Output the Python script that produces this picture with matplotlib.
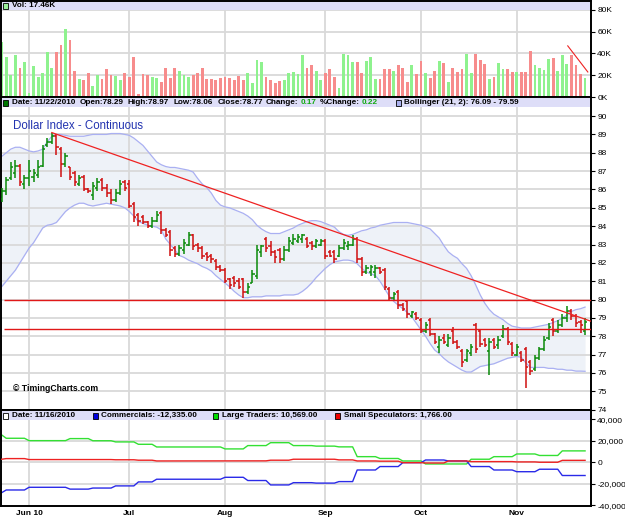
import numpy as np
import matplotlib
matplotlib.use("Agg")
import matplotlib.pyplot as plt
from matplotlib.patches import Rectangle

plt.rcParams["font.family"] = ["Liberation Sans", "DejaVu Sans"]

# bar index of first trading day of each month
month_idx = [6, 28, 49, 71, 92, 113]
month_lbl = ["Jun 10", "Jul", "Aug", "Sep", "Oct", "Nov"]

opens = [85.5, 85.9, 86.6, 86.9, 87.3, 86.3, 86.6, 86.7, 86.8, 87.3,
         88.4, 88.6, 88.9, 88.2, 87.4, 87.2, 86.9, 86.3, 86.7, 86.0,
         85.7, 86.1, 86.5, 86.1, 85.8, 85.4, 85.8, 86.4, 86.3, 85.2,
         84.6, 84.5, 84.2, 84.0, 84.3, 84.7, 83.8, 83.7, 82.8, 82.5,
         82.7, 83.0, 83.5, 83.0, 82.8, 82.5, 82.4, 82.1, 81.8, 81.6,
         81.1, 81.2, 81.0, 81.1, 80.4, 80.9, 81.3, 82.6, 83.3, 82.9,
         82.6, 82.7, 82.2, 82.7, 83.1, 83.2, 83.3, 83.3, 83.1, 82.9,
         83.0, 83.2, 82.6, 82.6, 82.4, 82.8, 82.9, 83.0, 83.3, 82.2,
         81.5, 81.5, 81.5, 81.7, 81.6, 80.6, 80.1, 80.4, 79.7, 79.9,
         79.1, 79.2, 78.9, 78.3, 78.9, 78.1, 77.4, 77.9, 77.5, 78.3,
         77.7, 77.2, 76.7, 77.1, 78.6, 78.3, 77.8, 77.2, 77.8, 77.5,
         78.0, 78.4, 77.6, 77.0, 77.1, 77.3, 76.6, 76.2, 76.8, 77.3,
         77.9, 78.9, 78.3, 78.6, 79.0, 79.4, 79.1, 78.8, 78.29]
highs = [86.1, 86.7, 87.5, 87.6, 87.4, 86.8, 87.6, 87.1, 87.6, 88.4,
         88.8, 89.1, 89.0, 88.3, 88.0, 87.2, 87.0, 86.8, 86.8, 86.1,
         86.4, 86.6, 86.6, 86.3, 86.0, 86.0, 86.5, 86.5, 86.5, 85.3,
         84.7, 84.6, 84.3, 84.5, 84.8, 84.8, 83.9, 83.8, 82.9, 83.0,
         83.3, 83.7, 83.6, 83.1, 82.9, 82.6, 82.5, 82.2, 81.9, 81.7,
         81.2, 81.3, 81.2, 81.2, 80.9, 81.6, 83.0, 83.0, 83.4, 83.2,
         82.7, 82.8, 82.9, 83.4, 83.6, 83.6, 83.6, 83.4, 83.2, 83.3,
         83.3, 83.3, 82.7, 82.7, 83.0, 83.3, 83.2, 83.5, 83.4, 82.3,
         81.9, 81.9, 81.9, 81.8, 81.7, 80.7, 80.4, 80.5, 79.8, 80.0,
         79.4, 79.3, 79.0, 78.8, 79.0, 78.2, 78.0, 78.1, 78.1, 78.5,
         77.8, 77.3, 77.3, 77.6, 78.7, 78.4, 77.9, 77.9, 77.9, 78.0,
         78.6, 78.5, 77.7, 77.6, 77.2, 77.4, 76.7, 77.0, 77.4, 78.0,
         78.7, 79.0, 78.9, 79.2, 79.65, 79.5, 79.2, 78.9, 78.97]
lows = [85.3, 85.7, 86.5, 86.6, 86.2, 86.0, 86.2, 86.4, 86.6, 87.2,
        88.3, 88.5, 87.9, 86.7, 87.2, 86.5, 86.2, 86.2, 85.9, 85.8,
        85.4, 85.9, 85.9, 85.6, 85.2, 85.3, 85.7, 85.9, 85.0, 84.2,
        84.0, 84.1, 83.9, 83.9, 84.2, 83.6, 83.4, 82.4, 82.3, 82.4,
        82.5, 82.9, 82.7, 82.6, 82.2, 82.1, 82.0, 81.6, 81.5, 80.9,
        80.6, 80.7, 80.6, 80.1, 80.3, 80.9, 81.1, 82.3, 82.6, 82.4,
        82.0, 82.0, 82.1, 82.6, 83.0, 83.1, 83.1, 82.8, 82.7, 82.8,
        82.9, 82.2, 82.3, 82.0, 82.3, 82.7, 82.7, 82.9, 82.0, 81.3,
        81.4, 81.3, 81.2, 81.4, 80.5, 79.9, 80.0, 79.5, 79.4, 79.0,
        79.0, 78.9, 78.2, 78.2, 78.0, 77.6, 77.1, 77.6, 77.4, 77.6,
        77.3, 76.3, 76.6, 76.9, 77.1, 77.4, 77.4, 75.9, 77.3, 77.3,
        77.9, 77.5, 76.9, 76.9, 76.6, 75.2, 75.9, 76.1, 76.7, 77.2,
        77.8, 78.0, 78.2, 78.5, 78.8, 78.9, 78.5, 78.2, 78.06]
closes = [85.9, 86.5, 87.2, 87.3, 86.4, 86.6, 87.0, 86.9, 87.2, 88.2,
          88.6, 88.9, 88.3, 87.4, 87.8, 86.7, 86.4, 86.6, 86.0, 85.9,
          86.2, 86.4, 86.1, 85.8, 85.4, 85.8, 86.3, 86.1, 85.1, 84.5,
          84.3, 84.2, 84.0, 84.3, 84.6, 83.8, 83.5, 82.7, 82.5, 82.8,
          83.1, 83.5, 82.9, 82.8, 82.4, 82.3, 82.2, 81.8, 81.6, 81.0,
          80.8, 80.9, 80.7, 80.4, 80.7, 81.4, 82.7, 82.9, 82.8, 82.6,
          82.3, 82.2, 82.7, 83.2, 83.3, 83.4, 83.5, 82.9, 82.9, 83.2,
          83.2, 82.4, 82.4, 82.2, 82.8, 83.1, 83.0, 83.3, 82.2, 81.5,
          81.7, 81.8, 81.7, 81.5, 80.7, 80.1, 80.3, 79.7, 79.5, 79.2,
          79.3, 79.0, 78.3, 78.6, 78.1, 77.7, 77.8, 77.7, 77.9, 77.7,
          77.4, 76.6, 77.2, 77.4, 77.3, 77.6, 77.5, 77.7, 77.4, 77.8,
          78.4, 77.7, 77.1, 77.4, 76.7, 76.3, 76.1, 76.8, 77.3, 77.8,
          78.5, 78.3, 78.6, 79.0, 79.4, 79.1, 78.7, 78.6, 78.77]

# volume in thousands
volume = [50.9, 37.0, 20.2, 38.6, 26.4, 31.9, 4.0, 28.8, 18.7, 21.8,
          41.1, 26.4, 41.1, 47.8, 62.5, 52.1, 24.2, 16.6, 15.6, 22.4,
          10.1, 20.2, 16.6, 25.7, 20.2, 19.3, 15.6, 21.8, 18.7, 36.8,
          2.8, 20.9, 20.2, 18.0, 17.2, 14.1, 26.7, 17.2, 26.4, 23.9,
          20.2, 18.0, 20.2, 22.4, 27.0, 16.3, 16.6, 15.6, 17.8, 18.0,
          17.5, 15.6, 19.3, 15.6, 21.8, 13.2, 34.0, 32.5, 18.0, 15.6,
          13.2, 14.7, 15.6, 21.8, 23.3, 21.2, 39.0, 26.4, 29.8, 23.9,
          15.6, 21.8, 25.6, 18.7, 8.0, 39.2, 38.6, 32.2, 32.2, 21.8,
          33.1, 37.0, 16.6, 16.6, 25.7, 25.7, 24.0, 29.5, 26.4, 14.1,
          29.5, 20.9, 33.1, 22.4, 17.8, 24.2, 33.1, 31.0, 13.5, 26.4,
          23.3, 26.0, 39.5, 22.4, 39.2, 34.0, 30.3, 16.6, 18.0, 31.6,
          25.7, 25.7, 23.3, 23.3, 23.3, 23.3, 42.3, 29.1, 26.4, 24.8,
          35.0, 35.9, 24.2, 38.6, 30.3, 38.6, 29.1, 21.2, 17.46]

bb_upper = [87.8, 88.0, 88.2, 88.3, 88.3, 88.2, 88.1, 88.05, 88.1, 88.2,
            88.6, 88.9, 89.0, 89.0, 88.95, 88.9, 88.9, 88.9, 88.9, 88.95,
            89.0, 89.0, 89.0, 89.0, 89.05, 89.05, 89.05, 89.0, 88.95, 88.8,
            88.6, 88.4, 88.1, 87.8, 87.5, 87.35, 87.25, 87.2, 87.2, 87.15,
            87.1, 87.05, 86.95, 86.6, 86.3, 86.1, 85.8, 85.4, 85.15, 85.05,
            85.0, 84.9, 84.8, 84.7, 84.55, 84.35, 84.05, 83.85, 83.7, 83.6,
            83.6, 83.6, 83.7, 83.8, 83.9, 84.05, 84.15, 84.25, 84.3, 84.3,
            84.25, 84.15, 84.05, 83.95, 83.7, 83.55, 83.5, 83.55, 83.65, 83.75,
            83.8, 83.9, 83.95, 84.05, 84.1, 84.15, 84.2, 84.2, 84.2, 84.2,
            84.15, 84.1, 84.05, 83.95, 83.85, 83.6, 83.35, 82.95, 82.6, 82.4,
            82.25, 81.95, 81.7, 81.3, 80.8, 80.25, 79.8, 79.45, 79.2, 79.05,
            78.9, 78.7, 78.55, 78.5, 78.45, 78.45, 78.45, 78.5, 78.55, 78.6,
            78.65, 78.75, 78.85, 79.0, 79.15, 79.35, 79.45, 79.5, 79.59]
bb_lower = [80.7, 81.0, 81.3, 81.6, 82.0, 82.4, 82.8, 83.1, 83.5, 83.9,
            84.05, 84.1, 84.2, 84.5, 84.8, 85.0, 85.15, 85.25, 85.25, 85.15,
            85.1, 85.15, 85.2, 85.25, 85.2, 85.15, 85.1, 85.0, 84.8, 84.55,
            84.25, 84.15, 84.05, 84.0, 83.95, 83.8, 83.3, 83.0, 82.7, 82.4,
            82.3, 82.15, 82.05, 81.95, 81.8, 81.7, 81.55, 81.3, 81.1, 80.9,
            80.7, 80.45, 80.25, 80.1, 80.1, 80.15, 80.15, 80.15, 80.2, 80.2,
            80.2, 80.2, 80.25, 80.25, 80.25, 80.3, 80.45, 80.65, 80.9, 81.2,
            81.45, 81.7, 81.9, 82.05, 82.1, 82.15, 82.15, 82.1, 81.95, 81.7,
            81.5, 81.4, 81.3, 81.0, 80.6, 80.2, 79.9, 79.7, 79.5, 79.3,
            79.05, 78.7, 78.35, 78.0, 77.6, 77.25, 77.05, 76.8, 76.6, 76.45,
            76.3, 76.15, 76.05, 76.05, 76.2, 76.35, 76.4, 76.45, 76.5, 76.6,
            76.7, 76.8, 76.85, 76.9, 76.85, 76.55, 76.3, 76.3, 76.3, 76.3,
            76.25, 76.25, 76.2, 76.2, 76.15, 76.15, 76.1, 76.1, 76.09]

trend_x = [11, 129.5]
trend_y = [89.1, 78.8]
levels = [80.0, 78.4]
vol_trend_x = [124.2, 128.6]
vol_trend_y = [47.0, 23.0]

# weekly COT net positions (thousands of contracts)
cot_week_start = [0, 1, 6, 10, 15, 20, 25, 30, 34, 39, 44, 49, 54, 59, 64,
                  69, 74, 78, 83, 88, 93, 98, 103, 108, 113, 118, 123]
large_traders = [25.4, 22.3, 20.1, 20.1, 22.0, 20.0, 18.9, 16.7, 14.2, 14.2,
                 14.2, 12.4, 15.5, 18.2, 15.5, 15.0, 14.3, 5.2, 3.5, 1.2,
                 -1.6, -1.6, 2.8, 5.2, 7.7, 6.3, 10.569]
commercials = [-28.3, -25.8, -23.3, -23.3, -25.0, -24.0, -22.0, -18.3, -15.8, -15.8,
               -15.8, -14.0, -17.0, -21.1, -19.0, -19.4, -18.0, -7.2, -4.0, -0.4,
               2.1, 1.2, -4.0, -7.2, -8.8, -6.5, -12.335]
small_specs = [2.8, 3.4, 2.5, 2.5, 2.6, 2.5, 2.3, 1.9, 1.2, 1.2,
               1.3, 1.3, 1.3, 1.9, 2.8, 2.8, 2.2, 1.2, 1.0, -0.4,
               -0.7, 1.2, 0.6, 0.6, 0.3, 0.0, 1.766]

W, H = 625, 532
n = len(closes)
x = np.arange(n)
o, h, l, c = map(np.array, (opens, highs, lows, closes))
up = c >= o

fig = plt.figure(figsize=(W / 100, H / 100), dpi=100)


def rect(top, bottom):
    return [1 / W, 1 - bottom / H, 590 / W, (bottom - top) / H]


ax_v = fig.add_axes(rect(0.5, 97))
ax_p = fig.add_axes(rect(97, 410), sharex=ax_v)
ax_c = fig.add_axes(rect(410, 506), sharex=ax_v)

grid_c = "#d9d9d9"
for ax in (ax_v, ax_p, ax_c):
    for m in month_idx:
        ax.axvline(m, color=grid_c, lw=1.3, zorder=1)
    for s in ax.spines.values():
        s.set_linewidth(1.4)
        s.set_color("black")
    ax.yaxis.tick_right()
    ax.tick_params(axis="y", direction="out", length=3, width=0.8, pad=1.5,
                   labelsize=6)
    ax.tick_params(axis="x", length=0)

ax_v.set_xlim(-0.15, 129.3)

# volume
for v in [20, 40, 60, 80]:
    ax_v.axhline(v, color=grid_c, lw=1.3, zorder=1)
ax_v.bar(x, volume, width=0.62, color=np.where(up, "#8ef28e", "#f78c8c"), zorder=2)
ax_v.plot(vol_trend_x, vol_trend_y, color="#ee2222", lw=0.8, zorder=3)
ax_v.set_ylim(0, 88.7)
ax_v.set_yticks([0, 20, 40, 60, 80])
ax_v.set_yticklabels(["0K", "20K", "40K", "60K", "80K"])
ax_v.tick_params(axis="x", labelbottom=False)

# price
for v in range(74, 91):
    ax_p.axhline(v, color=grid_c, lw=1.3, zorder=1)
ax_p.fill_between(x, bb_lower, bb_upper, color="#eef2f8", zorder=0.5, lw=0)
ax_p.plot(x, bb_upper, color="#aab0f2", lw=0.9, zorder=2)
ax_p.plot(x, bb_lower, color="#aab0f2", lw=0.9, zorder=2)
cols = np.where(up, "#0a8a0a", "#d01010")
ax_p.vlines(x, l, h, colors=cols, lw=1.1, zorder=3)
ax_p.hlines(o, x - 0.5, x, colors=cols, lw=1.1, zorder=3)
ax_p.hlines(c, x, x + 0.5, colors=cols, lw=1.1, zorder=3)
ax_p.plot(trend_x, trend_y, color="#ee2222", lw=0.9, zorder=4)
for lv in levels:
    ax_p.hlines(lv, 0.5, 129.3, color="#e01818", lw=1.0, zorder=4)
ax_p.set_ylim(73.98, 91.04)
ax_p.set_yticks(range(74, 91))
ax_p.tick_params(axis="x", labelbottom=False)

# COT
for v in [-20, 0, 20]:
    ax_c.axhline(v, color=grid_c, lw=1.3, zorder=1)
reps = np.diff(cot_week_start + [n])
ax_c.plot(x, np.repeat(large_traders, reps), color="#33e033", lw=1.0, zorder=2)
ax_c.plot(x, np.repeat(small_specs, reps), color="#ee2222", lw=1.0, zorder=3)
ax_c.plot(x, np.repeat(commercials, reps), color="#2a2ae8", lw=1.0, zorder=2)
ax_c.set_ylim(-40.7, 48.6)
ax_c.set_yticks([-40, -20, 0, 20, 40])
ax_c.set_yticklabels(["-40,000", "-20,000", "0", "20,000", "40,000"])
ax_c.set_xticks(month_idx)
ax_c.set_xticklabels(month_lbl, fontsize=6, fontweight="bold")
ax_c.tick_params(axis="x", pad=3)

# header bands and legend text
for top, bot in [(1.5, 10), (98, 107), (411, 420)]:
    fig.add_artist(Rectangle((2 / W, 1 - bot / H), 588 / W, (bot - top) / H,
                             transform=fig.transFigure, facecolor="#dedef8",
                             edgecolor="none", zorder=5))


def box(px, py, fc):
    fig.add_artist(Rectangle((px / W, 1 - (py + 3) / H), 5 / W, 6 / H,
                             transform=fig.transFigure, facecolor=fc,
                             edgecolor="black", lw=0.6, zorder=6))


def hdr(px, py, s, color="black"):
    fig.text(px / W, 1 - py / H, s, fontsize=5.9, fontweight="bold",
             color=color, va="center", ha="left", zorder=7)


box(3, 5.8, "#99ee99")
hdr(12, 5.8, "Vol: 17.46K")

y2 = 102.5
box(3, y2, "#007700")
hdr(12, y2, "Date: 11/22/2010")
hdr(80, y2, "Open:78.29")
hdr(127, y2, "High:78.97")
hdr(174, y2, "Low:78.06")
hdr(218, y2, "Close:78.77")
hdr(266, y2, "Change:")
hdr(300.5, y2, "0.17", "#11aa11")
hdr(319.5, y2, "%Change:")
hdr(362, y2, "0.22", "#11aa11")
box(396, y2, "#aab0ee")
hdr(404, y2, "Bollinger (21, 2): 76.09 - 79.59")

y3 = 415.5
box(3, y3, "white")
hdr(12, y3, "Date: 11/16/2010")
box(93, y3, "#0000dd")
hdr(101, y3, "Commercials: -12,335.00")
box(213, y3, "#00dd00")
hdr(222, y3, "Large Traders: 10,569.00")
box(335, y3, "#ee0000")
hdr(344, y3, "Small Speculators: 1,766.00")

fig.text(13 / W, 1 - 126 / H, "Dollar Index - Continuous", fontsize=8.3,
         color="#2233b0", va="center", ha="left")
fig.text(13 / W, 1 - 388.5 / H, "\u00a9 TimingCharts.com", fontsize=6.2,
         fontweight="bold", color="black", va="center", ha="left")

fig.savefig("out.png", dpi=100)
